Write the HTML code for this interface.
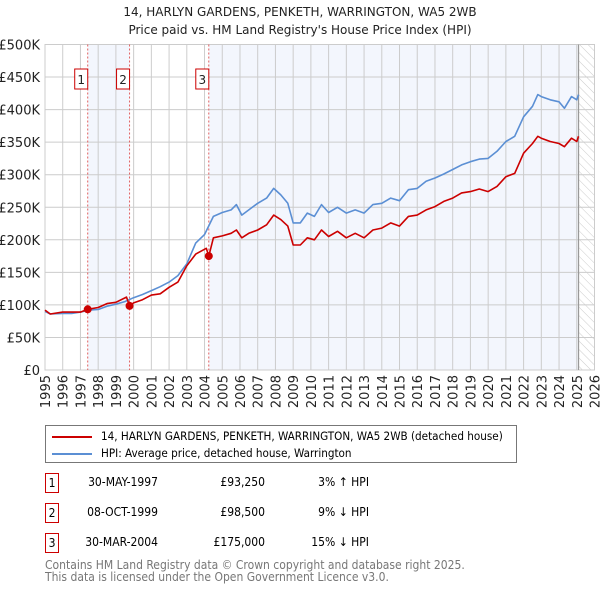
<!DOCTYPE html>
<html><head><meta charset="utf-8"><style>
body{margin:0;background:#fff;font-family:"DejaVu Sans","Liberation Sans",sans-serif;}
#wrap{position:relative;width:600px;height:590px;overflow:hidden}
.cond{font-family:"DejaVu Sans Condensed","DejaVu Sans","Liberation Sans",sans-serif;}
</style></head><body>
<div id="wrap">
<svg id="svg" width="600" height="590" xmlns="http://www.w3.org/2000/svg" font-family="DejaVu Sans, Liberation Sans, sans-serif">
<defs><pattern id="hatch" width="6" height="6" patternUnits="userSpaceOnUse" patternTransform="rotate(-45)"><line x1="0" y1="0" x2="0" y2="6" stroke="#ccc" stroke-width="1"/></pattern></defs>
<text x="300" y="16" text-anchor="middle" font-size="12" fill="#222">14, HARLYN GARDENS, PENKETH, WARRINGTON, WA5 2WB</text>
<text x="300" y="34" text-anchor="middle" font-size="12" fill="#222">Price paid vs. HM Land Registry's House Price Index (HPI)</text>
<g id="plot"></g>
</svg>
<div class="cond" style="position:absolute;left:45px;top:425px;width:470px;height:36px;border:1px solid #777;font-size:11.6px;color:#000;">
 <div style="position:absolute;left:6px;top:3px;white-space:nowrap"><span style="display:inline-block;width:40px;height:2px;background:#cc0000;vertical-align:middle;margin-right:9px"></span>14, HARLYN GARDENS, PENKETH, WARRINGTON, WA5 2WB (detached house)</div>
 <div style="position:absolute;left:6px;top:20px;white-space:nowrap"><span style="display:inline-block;width:40px;height:2px;background:#5b8fd4;vertical-align:middle;margin-right:9px"></span>HPI: Average price, detached house, Warrington</div>
</div>
<div id="table" class="cond" style="font-size:12px;color:#000"></div>
<div class="cond" style="position:absolute;left:45px;top:559px;font-size:12px;color:#777;line-height:12px">Contains HM Land Registry data © Crown copyright and database right 2025.<br>This data is licensed under the Open Government Licence v3.0.</div>
</div>
<script>
const hpiYears=[1995,1995.3,1996,1996.5,1997,1997.5,1998,1998.5,1999,1999.5,2000,2000.5,2001,2001.5,2002,2002.5,2003,2003.5,2004,2004.5,2005,2005.5,2005.8,2006.1,2006.5,2007,2007.5,2007.9,2008.3,2008.7,2009,2009.4,2009.8,2010.2,2010.6,2011,2011.5,2012,2012.5,2013,2013.5,2014,2014.5,2015,2015.5,2016,2016.5,2017,2017.5,2018,2018.5,2019,2019.5,2020,2020.5,2021,2021.5,2022,2022.5,2022.8,2023,2023.5,2024,2024.3,2024.7,2025,2025.1];
const hpiValues=[90,86,87,87,89,92,93,98,101,105,111,116,122,128,135,145,163,195,208,236,242,246,254,238,246,256,264,279,269,256,226,226,241,236,254,242,250,241,246,241,254,256,264,260,277,279,290,295,301,308,315,320,324,325,336,351,359,389,405,423,420,415,412,402,420,415,423];
const propYears=[1995,1995.3,1996,1997,1997.41,1998,1998.5,1999,1999.6,1999.77,2000,2000.5,2001,2001.5,2002,2002.5,2003,2003.5,2004.1,2004.24,2004.5,2005,2005.5,2005.8,2006.1,2006.5,2007,2007.5,2007.9,2008.3,2008.7,2009,2009.4,2009.8,2010.2,2010.6,2011,2011.5,2012,2012.5,2013,2013.5,2014,2014.5,2015,2015.5,2016,2016.5,2017,2017.5,2018,2018.5,2019,2019.5,2020,2020.5,2021,2021.5,2022,2022.5,2022.8,2023,2023.5,2024,2024.3,2024.7,2025,2025.1];
const propValues=[92,86,89,89,93.25,96,102,104,112,98.5,103,108,115,117,127,135,160,178,187,175,203,206,210,215,203,210,215,223,238,231,221,192,192,203,200,215,205,213,203,210,203,215,218,226,221,236,238,246,251,259,264,272,274,278,274,282,297,302,333,348,359,356,351,348,343,356,351,359];
const saleYears=[1997.41,1999.77,2004.24];
const saleValues=[93.25,98.5,175];
const saleLabels=["1","2","3"];
const saleDates=["30-MAY-1997","08-OCT-1999","30-MAR-2004"];
const salePrices=["£93,250","£98,500","£175,000"];
const saleHpi=["3% ↑ HPI","9% ↓ HPI","15% ↓ HPI"];
const yTicks=[0,50,100,150,200,250,300,350,400,450,500];
const yTickLabels=["£0","£50K","£100K","£150K","£200K","£250K","£300K","£350K","£400K","£450K","£500K"];
const xYears=[1995,1996,1997,1998,1999,2000,2001,2002,2003,2004,2005,2006,2007,2008,2009,2010,2011,2012,2013,2014,2015,2016,2017,2018,2019,2020,2021,2022,2023,2024,2025,2026];

const L=45,R=594.5,T=44.5,B=370,x0=1995,x1=2026,ymax=500;
const X=y=>L+(y-x0)/(x1-x0)*(R-L);
const Y=v=>B-v/ymax*(B-T);
const NS="http://www.w3.org/2000/svg";
const g=document.getElementById('plot');
function mk(t,a,p){const e=document.createElementNS(NS,t);for(const k in a)e.setAttribute(k,a[k]);(p||g).appendChild(e);return e;}
const dataEnd=2025.1;
let r=mk('rect',{x:X(saleYears[0]),y:T,width:X(saleYears[1])-X(saleYears[0]),height:B-T,fill:'#f3f6fd'});

r=mk('rect',{x:X(saleYears[2]),y:T,width:X(dataEnd)-X(saleYears[2]),height:B-T,fill:'#f3f6fd'});

r=mk('rect',{x:X(dataEnd),y:T,width:R-X(dataEnd),height:B-T,fill:'url(#hatch)'});

yTicks.forEach((v,i)=>{
 let l=mk('line',{x1:L,x2:R,y1:Y(v),y2:Y(v),stroke:'#ccc','stroke-width':1});
 
 let t=mk('text',{x:40,y:Y(v)+5,'text-anchor':'end','font-size':13,fill:'#222'});t.textContent=yTickLabels[i];
 
});
xYears.forEach(yr=>{
 let l=mk('line',{x1:X(yr),x2:X(yr),y1:T,y2:B,stroke:'#ccc','stroke-width':1});
 
 let t=mk('text',{x:0,y:0,'text-anchor':'end','font-size':13,fill:'#222',transform:`translate(${X(yr)+5},375) rotate(-90)`});t.textContent=yr;
 
});
let fr=mk('rect',{x:L,y:T,width:R-L,height:B-T,fill:'none',stroke:'#ccc'});

let nl=mk('line',{x1:X(dataEnd),x2:X(dataEnd),y1:T,y2:B,stroke:'#999','stroke-width':1.2});

saleYears.forEach((yr,i)=>{
 let l=mk('line',{x1:X(yr),x2:X(yr),y1:T,y2:B,stroke:'#e06060','stroke-dasharray':'2,2','stroke-width':1});
 
 let bx=mk('rect',{x:X(yr)-13,y:69,width:13,height:20,fill:'#fff',stroke:'#cc0000'});
 
 let t=mk('text',{x:X(yr)-6.5,y:84,'text-anchor':'middle','font-size':12,fill:'#222'});t.textContent=saleLabels[i];
 
});
function line(xs,vs,c,name){
 const d=xs.map((x,i)=>(i?'L':'M')+X(x).toFixed(1)+','+Y(vs[i]).toFixed(1)).join('');
 let p=mk('path',{d:d,fill:'none',stroke:c,'stroke-width':1.6,'stroke-linejoin':'round'});
 
}
line(hpiYears,hpiValues,'#5b8fd4','hpi-line');
line(propYears,propValues,'#cc0000','property-line');
saleYears.forEach((yr,i)=>{
 let c=mk('circle',{cx:X(yr),cy:Y(saleValues[i]),r:4,fill:'#cc0000'});
 
});
const tb=document.getElementById('table');
const rowsY=[473,503,533];
saleDates.forEach((d,i)=>{
 const row=document.createElement('div');
 
 
 row.style.cssText=`position:absolute;left:0;top:${rowsY[i]}px;width:600px;height:20px;`;
 row.innerHTML=`<span style="position:absolute;left:45px;top:0;width:12px;height:18px;border:1px solid #cc0000;text-align:center;line-height:18px">${saleLabels[i]}</span>`+
 `<span style="position:absolute;right:442px;top:2px">${d}</span>`+
 `<span style="position:absolute;right:335px;top:2px">${salePrices[i]}</span>`+
 `<span style="position:absolute;right:231px;top:2px">${saleHpi[i]}</span>`;
 tb.appendChild(row);
});
</script>
</body></html>
